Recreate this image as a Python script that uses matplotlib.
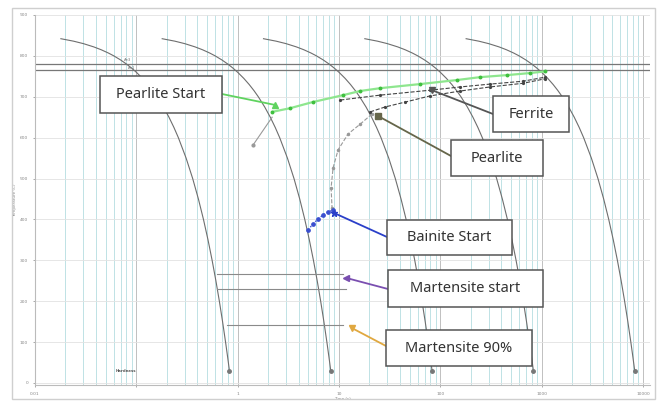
import numpy as np, matplotlib
matplotlib.use('Agg')
import matplotlib.pyplot as plt
from matplotlib.patches import Rectangle
from matplotlib.ticker import FixedLocator, LogLocator, NullFormatter

W, H = 660, 401

# cooling curves (time s, temperature C), one curve per cooling rate
curve_temp = [842, 836, 830, 822, 815, 807, 800, 790, 780, 770, 760, 745, 730, 715, 700, 675,
              650, 625, 600, 550, 500, 450, 400, 350, 300, 250, 200, 150, 100, 65, 30]
curve_1 = [0.018, 0.024, 0.030, 0.038, 0.045, 0.053, 0.060, 0.070, 0.080, 0.090, 0.100, 0.115,
           0.130, 0.145, 0.160, 0.185, 0.210, 0.235, 0.260, 0.310, 0.360, 0.410, 0.460, 0.510,
           0.560, 0.610, 0.660, 0.710, 0.760, 0.795, 0.830]
curve_2 = [0.18, 0.24, 0.30, 0.38, 0.45, 0.53, 0.60, 0.70, 0.80, 0.90, 1.00, 1.15,
           1.30, 1.45, 1.60, 1.85, 2.10, 2.35, 2.60, 3.10, 3.60, 4.10, 4.60, 5.10,
           5.60, 6.10, 6.60, 7.10, 7.60, 7.95, 8.30]
curve_3 = [1.8, 2.4, 3.0, 3.8, 4.5, 5.3, 6.0, 7.0, 8.0, 9.0, 10.0, 11.5,
           13.0, 14.5, 16.0, 18.5, 21.0, 23.5, 26.0, 31.0, 36.0, 41.0, 46.0, 51.0,
           56.0, 61.0, 66.0, 71.0, 76.0, 79.5, 83.0]
curve_4 = [18, 24, 30, 38, 45, 53, 60, 70, 80, 90, 100, 115,
           130, 145, 160, 185, 210, 235, 260, 310, 360, 410, 460, 510,
           560, 610, 660, 710, 760, 795, 830]
curve_5 = [180, 240, 300, 380, 450, 530, 600, 700, 800, 900, 1000, 1150,
           1300, 1450, 1600, 1850, 2100, 2350, 2600, 3100, 3600, 4100, 4600, 5100,
           5600, 6100, 6600, 7100, 7600, 7950, 8300]

AE3 = 780; AE1 = 765

pearlite_start_t = [2.19, 3.29, 5.5, 11, 16.1, 25.5, 63, 147, 247, 456, 770, 1084]
pearlite_start_T = [663, 672, 687, 704, 714, 721, 731, 741, 748, 753, 758, 762]
ferrite_t = [10.3, 25.5, 79, 157, 310, 656, 1084]
ferrite_T = [692, 704, 716, 724, 731, 738, 748]
pearlite_t = [20.3, 28.5, 45, 79, 157, 310, 656, 1084]
pearlite_T = [663, 675, 687, 702, 714, 724, 733, 744]
boundary_t = [21.2, 16.2, 12.3, 9.8, 8.75, 8.36, 8.55]
boundary_T = [658, 633, 609, 570, 526, 477, 428]
branch_t = [2.19, 1.42]
branch_T = [650, 582]
bainite_t = [4.95, 5.55, 6.22, 6.97, 7.8, 8.75]
bainite_T = [374, 389, 401, 411, 418, 423]

ms_lines = [(0.627, 11.0, 266), (0.627, 11.8, 230), (0.79, 11.0, 142)]

# callouts: label, box (px from top-left), connector start (px), target (t, T), colour, marker
callouts = [
    ('Pearlite Start', (100, 76, 222, 113), (222, 94), (2.34, 680), '#5fd35f', '^'),
    ('Ferrite', (493, 96, 569, 132), (493, 114), (83, 716), '#555555', 'v'),
    ('Pearlite', (451, 140, 543, 176), (451, 156), (24.3, 653), '#66664a', 's'),
    ('Bainite Start', (387, 220, 512, 255), (387, 237), (8.9, 416), '#2a3fc9', '*'),
    ('Martensite start', (388, 270, 543, 307), (388, 289), (11.75, 257), '#7a4fb0', '<'),
    ('Martensite 90%', (386, 330, 532, 366), (386, 346), (13.5, 134), '#e0a840', 'v'),
]

fig = plt.figure(figsize=(W / 100, H / 100), dpi=100)
fig.patch.set_facecolor('white')
fig.add_artist(Rectangle((12 / W, 1 - 399 / H), 643 / W, 391 / H, transform=fig.transFigure,
                         fill=False, ec='#cfcfcf', lw=1.0))
ax = fig.add_axes([35 / W, 1 - 385 / H, 615 / W, 370 / H])
ax.set_xscale('log')
ax.set_xlim(0.01, 11750)
ax.set_ylim(-5, 900)

ax.xaxis.set_major_locator(FixedLocator([0.01, 0.1, 1, 10, 100, 1000, 10000]))
ax.set_xticklabels(['0.01', '', '1', '10', '100', '1000', '10000'])
ax.xaxis.set_minor_locator(LogLocator(base=10, subs=np.arange(2, 10)))
ax.xaxis.set_minor_formatter(NullFormatter())
ax.set_yticks(np.arange(0, 901, 100))
ax.tick_params(labelsize=3.2, colors='#888888', length=1.5, width=0.5)
ax.tick_params(which='minor', length=0)
ax.grid(True, which='major', axis='x', color='#b5b5b5', lw=0.6)
ax.grid(True, which='minor', axis='x', color='#bfe2e5', lw=0.7)
ax.grid(True, which='major', axis='y', color='#e2e2e2', lw=0.6)
for s in ['top', 'right']:
    ax.spines[s].set_visible(False)
for s in ['left', 'bottom']:
    ax.spines[s].set_color('#bbbbbb'); ax.spines[s].set_linewidth(0.8)
ax.set_xlabel('Time (s)', fontsize=3, color='#888888', labelpad=1)
ax.set_ylabel('Temperature (C)', fontsize=3, color='#888888', labelpad=2)

ax.axhline(AE3, color='#777777', lw=0.9)
ax.axhline(AE1, color='#777777', lw=0.9)
ax.text(0.075, AE3 + 8, 'Ae3', fontsize=2.8, color='#777777')
ax.text(0.082, AE1 + 2, 'Ae1', fontsize=2.8, color='#777777')

for c in [curve_1, curve_2, curve_3, curve_4, curve_5]:
    ax.plot(c, curve_temp, color='#6e6e6e', lw=0.8)
    ax.plot(c[-1], curve_temp[-1], 'o', color='#777777', ms=2.5)
ax.text(0.062, 27, 'Hardness', fontsize=2.8, color='#555555', fontweight='bold')

ax.plot(pearlite_start_t, pearlite_start_T, color='#8ee68e', lw=1.6, marker='o', ms=1.8,
        mfc='#3fbf3f', mec='#3fbf3f', zorder=4)
ax.plot(ferrite_t, ferrite_T, color='#444444', lw=0.8, ls='--', marker='o', ms=1.3, zorder=4)
ax.plot(pearlite_t, pearlite_T, color='#444444', lw=0.8, ls='--', marker='o', ms=1.3, zorder=4)
ax.plot(boundary_t, boundary_T, color='#999999', lw=0.8, ls='--', marker='o', ms=1.5, zorder=3)
ax.plot(branch_t, branch_T, color='#999999', lw=0.8, marker='o', ms=2, markevery=[1], zorder=3)
ax.plot(bainite_t, bainite_T, color='#3a4fd0', lw=1.0, ls=':', marker='o', ms=2.4, zorder=4)
for t0, t1, T in ms_lines:
    ax.plot([t0, t1], [T, T], color='#8a8a8a', lw=0.8)

for label, (x0, y0, x1, y1), (sx, sy), (tt, tT), col, mk in callouts:
    ax.annotate('', xy=(tt, tT), xycoords='data', xytext=(sx, H - sy), textcoords='figure pixels',
                arrowprops=dict(arrowstyle='-', color=col, lw=1.3, shrinkA=0, shrinkB=0), zorder=6)
    ax.plot(tt, tT, marker=mk, color=col, ms=5, zorder=7)
    fig.add_artist(Rectangle((x0 / W, 1 - y1 / H), (x1 - x0) / W, (y1 - y0) / H,
                             transform=fig.transFigure, fc='white', ec='#555555', lw=1.1, zorder=8))
    fig.text((x0 + x1) / 2 / W, 1 - (y0 + y1) / 2 / H, label, ha='center', va='center',
             fontsize=10.5, family=['Noto Sans', 'DejaVu Sans'], color='#333333', zorder=9)

fig.savefig('out.png', dpi=100, facecolor='white')
